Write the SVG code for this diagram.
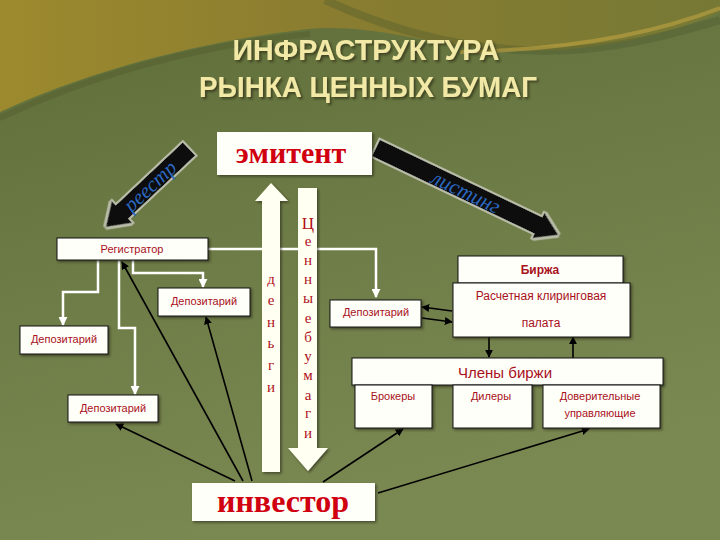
<svg xmlns="http://www.w3.org/2000/svg" width="720" height="540" viewBox="0 0 720 540">
  <defs>
    <linearGradient id="bg" x1="0" y1="0" x2="0.3" y2="1">
      <stop offset="0" stop-color="#5e6c38"/>
      <stop offset="0.45" stop-color="#6c7a45"/>
      <stop offset="1" stop-color="#7a8852"/>
    </linearGradient>
    <linearGradient id="gold" x1="0" y1="0" x2="1" y2="0">
      <stop offset="0" stop-color="#9d8a2e"/>
      <stop offset="0.45" stop-color="#8a7d30"/>
      <stop offset="1" stop-color="#767935"/>
    </linearGradient>
    <filter id="sh" x="-10%" y="-10%" width="130%" height="140%">
      <feDropShadow dx="1.5" dy="1.5" stdDeviation="1.2" flood-color="#1e2410" flood-opacity="0.6"/>
    </filter>
    <filter id="tshadow" x="-5%" y="-20%" width="110%" height="150%">
      <feDropShadow dx="2" dy="2" stdDeviation="1" flood-color="#2a2a12" flood-opacity="0.65"/>
    </filter>
    <filter id="glow" x="-20%" y="-20%" width="140%" height="140%">
      <feMorphology in="SourceAlpha" operator="dilate" radius="1.5" result="d"/>
      <feFlood flood-color="#b8bca8"/>
      <feComposite in2="d" operator="in" result="o"/>
      <feMerge><feMergeNode in="o"/><feMergeNode in="SourceGraphic"/></feMerge>
    </filter>
    <marker id="wa" viewBox="0 0 10 10" refX="9" refY="5" markerWidth="9" markerHeight="9" markerUnits="userSpaceOnUse" orient="auto">
      <path d="M0,0 L10,5 L0,10 Z" fill="#ffffff"/>
    </marker>
    <marker id="ba" viewBox="0 0 10 10" refX="9" refY="5" markerWidth="8" markerHeight="8" markerUnits="userSpaceOnUse" orient="auto">
      <path d="M0,0 L10,5 L0,10 Z" fill="#000000"/>
    </marker>
    <style>
      .box { fill: #fffffa; stroke: #111; stroke-width: 1; filter: url(#sh); }
      .wbox { fill: #fffffa; stroke: none; filter: url(#sh); }
      .lbl { font-family: "Liberation Sans", "Noto Sans", sans-serif; font-size: 11px; fill: #a8101a; text-anchor: middle; }
      .lblb { font-family: "Liberation Sans", "Noto Sans", sans-serif; font-size: 12px; font-weight: bold; fill: #a8101a; text-anchor: middle; }
      .big { font-family: "Liberation Serif", serif; font-weight: bold; fill: #d00010; text-anchor: middle; }
      .vt { font-family: "Liberation Serif", serif; font-size: 15px; fill: #b0101a; text-anchor: middle; }
      .title { font-family: "Liberation Sans", Arial, sans-serif; font-size: 30px; font-weight: bold; fill: #f3e9a6; text-anchor: middle; filter: url(#tshadow); }
      .wline { fill: none; stroke: #ffffff; stroke-width: 2.5; }
      .bline { fill: none; stroke: #000; stroke-width: 1.6; }
      .arr { fill: #0a0a0a; filter: url(#glow); }
      .arrtxt { font-family: "Liberation Serif", serif; font-style: italic; font-size: 21px; fill: #2b68c0; text-anchor: middle; }
      .shaft { fill: #fffff2; filter: url(#sh); }
    </style>
  </defs>

  <!-- background -->
  <rect x="0" y="0" width="720" height="540" fill="url(#bg)"/>
  <path d="M0,0 H720 V12 C660,40 560,58 480,48 C410,40 360,22 300,30 C200,42 90,70 0,112 Z" fill="url(#gold)"/>
  <path d="M325,0 C380,25 440,45 520,50 C600,55 670,35 720,20" fill="none" stroke="#4a5a2e" stroke-width="8" opacity="0.35"/>
  <path d="M460,52 C560,50 650,35 720,8" fill="none" stroke="#c6a844" stroke-width="4" opacity="0.55"/>
  <path d="M0,118 C90,75 200,45 310,34" fill="none" stroke="#4c5a2c" stroke-width="6" opacity="0.35"/>

  <!-- title -->
  <g id="title">
    <text class="title" x="366" y="60" textLength="267" lengthAdjust="spacingAndGlyphs">ИНФРАСТРУКТУРА</text>
    <text class="title" x="368" y="97" textLength="338" lengthAdjust="spacingAndGlyphs">РЫНКА ЦЕННЫХ БУМАГ</text>
  </g>

  <!-- big diagonal arrows -->
  <g id="reestr-arrow">
    <g transform="translate(189,149) rotate(136.8)">
      <polygon class="arr" points="0,-9 92,-9 92,-15 114,0 92,15 92,9 0,9"/>
    </g>
    <text class="arrtxt" transform="translate(150,186) rotate(-43.2)" y="7">реестр</text>
  </g>
  <g id="listing-arrow">
    <g transform="translate(376,148) rotate(25.5)">
      <polygon class="arr" points="0,-9 180,-9 180,-14 202,0 180,14 180,9 0,9"/>
    </g>
    <text class="arrtxt" transform="translate(466,192) rotate(25.5)" y="7">листинг</text>
  </g>

  <!-- connectors -->
  <g id="connectors">
    <path class="wline" d="M208,249 H376 V297" marker-end="url(#wa)"/>
    <path class="wline" d="M98,260 V292 H63 V325" marker-end="url(#wa)"/>
    <path class="wline" d="M119,260 V328 H135 V394" marker-end="url(#wa)"/>
    <path class="wline" d="M133,260 V273 H203 V287" marker-end="url(#wa)"/>

    <line class="bline" x1="235" y1="481" x2="116" y2="424" marker-end="url(#ba)"/>
    <line class="bline" x1="243" y1="481" x2="122" y2="262" marker-end="url(#ba)"/>
    <line class="bline" x1="252" y1="481" x2="206" y2="317" marker-end="url(#ba)"/>
    <line class="bline" x1="323" y1="482" x2="403" y2="429" marker-end="url(#ba)"/>
    <line class="bline" x1="378" y1="493" x2="589" y2="429" marker-end="url(#ba)"/>
    <line class="bline" x1="452" y1="311" x2="422" y2="307" marker-end="url(#ba)"/>
    <line class="bline" x1="422" y1="318" x2="452" y2="322" marker-end="url(#ba)"/>
    <line class="bline" x1="489" y1="337" x2="489" y2="357" marker-end="url(#ba)"/>
    <line class="bline" x1="573" y1="358" x2="573" y2="337" marker-end="url(#ba)"/>
  </g>

  <!-- central arrows -->
  <g id="dengi">
    <polygon class="shaft" points="271,183 288,201 280,201 280,472 262,472 262,201 255,201"/>
    <text class="vt" x="271" y="284">д</text>
    <text class="vt" x="271" y="305">е</text>
    <text class="vt" x="271" y="327">н</text>
    <text class="vt" x="271" y="348">ь</text>
    <text class="vt" x="271" y="370">г</text>
    <text class="vt" x="271" y="392">и</text>
  </g>
  <g id="cennye-bumagi">
    <polygon class="shaft" points="298,188 317,188 317,448 328,448 308,471 288,448 298,448"/>
    <text class="vt" x="308" y="229" style="font-size:17px">Ц</text>
    <text class="vt" x="308" y="246">е</text>
    <text class="vt" x="308" y="265">н</text>
    <text class="vt" x="308" y="284">н</text>
    <text class="vt" x="308" y="303">ы</text>
    <text class="vt" x="308" y="323">е</text>
    <text class="vt" x="308" y="342">б</text>
    <text class="vt" x="308" y="361">у</text>
    <text class="vt" x="308" y="380">м</text>
    <text class="vt" x="308" y="400">а</text>
    <text class="vt" x="308" y="418">г</text>
    <text class="vt" x="308" y="438">и</text>
  </g>

  <!-- nodes -->
  <g id="emitent">
    <rect class="wbox" x="217" y="132" width="155" height="43"/>
    <text class="big" x="291" y="163" style="font-size:30px">эмитент</text>
  </g>
  <g id="investor">
    <rect class="wbox" x="192" y="483" width="183" height="38"/>
    <text class="big" x="283" y="512" style="font-size:32px">инвестор</text>
  </g>
  <g id="registrator">
    <rect class="box" x="57" y="238" width="151" height="22"/>
    <text class="lbl" x="132" y="253">Регистратор</text>
  </g>
  <g id="depo-upper">
    <rect class="box" x="158" y="288" width="92" height="28"/>
    <text class="lbl" x="204" y="305">Депозитарий</text>
  </g>
  <g id="depo-left">
    <rect class="box" x="20" y="326" width="88" height="28"/>
    <text class="lbl" x="64" y="343">Депозитарий</text>
  </g>
  <g id="depo-bottom">
    <rect class="box" x="68" y="395" width="90" height="27"/>
    <text class="lbl" x="113" y="412">Депозитарий</text>
  </g>
  <g id="depo-middle">
    <rect class="box" x="330" y="300" width="91" height="27"/>
    <text class="lbl" x="376" y="316">Депозитарий</text>
  </g>
  <g id="birzha">
    <rect class="box" x="458" y="256" width="165" height="27"/>
    <text class="lblb" x="540" y="274">Биржа</text>
  </g>
  <g id="rkp">
    <rect class="box" x="453" y="283" width="177" height="54"/>
    <text class="lbl" x="541" y="300" style="font-size:12px">Расчетная  клиринговая</text>
    <text class="lbl" x="541" y="327" style="font-size:12px">палата</text>
  </g>
  <g id="chleny">
    <rect class="box" x="352" y="358" width="311" height="27"/>
    <text class="lbl" x="505" y="378" style="font-size:15px">Члены биржи</text>
  </g>
  <g id="brokery">
    <rect class="box" x="355" y="385" width="77" height="43"/>
    <text class="lbl" x="393" y="400">Брокеры</text>
  </g>
  <g id="dilery">
    <rect class="box" x="453" y="385" width="79" height="43"/>
    <text class="lbl" x="491" y="400">Дилеры</text>
  </g>
  <g id="doveritelnye">
    <rect class="box" x="543" y="385" width="117" height="43"/>
    <text class="lbl" x="600" y="400">Доверительные</text>
    <text class="lbl" x="600" y="417">управляющие</text>
  </g>
</svg>
